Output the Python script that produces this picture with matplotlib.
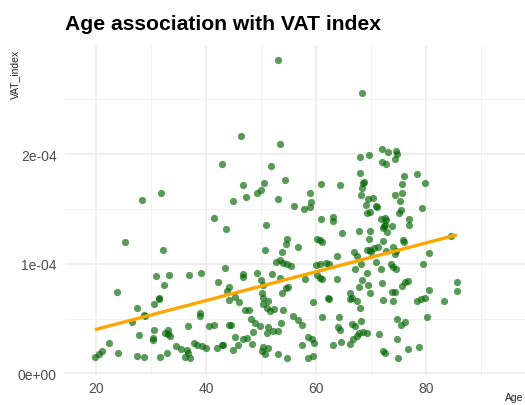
import numpy as np
import matplotlib.pyplot as plt
from matplotlib.ticker import FixedLocator, FuncFormatter

plt.rcParams['font.family'] = ['Liberation Sans', 'DejaVu Sans']

# age (years) and VAT index (in units of 1e-4)
age = [
    53.1, 68.4, 46.4, 53.5, 42.9, 51.8, 54.4, 46.7, 50.5, 50.0,
    49.3, 47.3, 44.9, 53.1, 56.0, 31.8, 28.4, 41.5, 43.6, 50.9,
    25.3, 32.2, 50.7, 54.7, 54.5, 56.7, 53.8, 60.9, 64.4, 58.9,
    59.1, 58.9, 57.8, 60.9, 63.1, 63.1, 64.7, 67.8, 60.2, 60.7,
    61.1, 72.0, 73.1, 74.5, 74.7, 74.4, 68.0, 69.6, 72.0, 72.7,
    68.0, 68.7, 68.5, 68.4, 68.2, 76.0, 78.4, 79.8, 75.6, 75.6,
    74.4, 75.3, 75.5, 75.1, 76.9, 76.9, 69.5, 70.4, 69.1, 70.9,
    71.1, 69.8, 69.3, 79.3, 71.8, 72.5, 72.7, 72.2, 72.4, 72.5,
    73.8, 72.9, 69.8, 69.6, 72.2, 75.8, 76.0, 66.9, 69.3, 69.8,
    70.5, 71.3, 70.0, 72.7, 74.0, 74.5, 74.4, 84.5, 63.8, 67.5,
    52.7, 53.5, 54.0, 54.7, 55.5, 60.0, 60.7, 61.8, 62.4,
    43.5, 46.7, 46.7, 49.3, 52.0, 39.1, 36.9, 33.3, 30.9, 32.4,
    23.8, 31.5, 31.5, 30.5, 27.5, 28.7, 28.9, 26.5, 38.9, 38.9,
    36.7, 40.5, 41.5, 30.5, 27.8, 30.4, 30.4, 32.5, 33.1, 33.1,
    33.5, 22.4, 19.8, 20.5, 21.1, 24.0, 27.5, 28.7, 31.6, 32.9,
    34.5, 35.5, 36.5, 36.7, 36.2, 37.1, 37.8, 38.4, 39.3, 40.0,
    42.0, 42.9, 42.2, 44.2, 43.8, 45.3, 44.2, 46.0, 44.2, 44.6,
    45.3, 46.7, 47.5, 48.4, 43.1, 44.9, 45.8, 47.1, 47.8, 48.2,
    48.9, 49.8, 48.5, 50.0, 50.4, 53.5, 54.9, 54.5, 50.2, 50.4,
    53.8, 50.4, 51.3, 51.1, 51.6, 52.4, 54.0, 51.3, 51.1, 52.2,
    53.6, 53.1, 50.4, 50.2, 50.7, 51.3, 53.1, 54.7, 55.8, 56.7,
    57.5, 57.5, 58.5, 59.3, 59.6, 58.5, 59.5, 59.5, 61.1, 62.2,
    60.2, 60.7, 61.1, 58.0, 63.8, 64.2, 64.0, 64.4, 64.5, 63.1,
    66.2, 66.5, 66.2, 67.5, 68.0, 66.5, 67.1, 66.2, 66.7, 67.5,
    67.1, 67.8, 68.2, 69.3, 68.4, 69.5, 69.8, 71.8, 72.0, 70.9,
    73.6, 74.0, 74.5, 73.8, 74.4, 75.6, 76.2, 76.7, 72.2, 74.0,
    79.5, 80.5, 78.4, 79.1, 79.8, 80.5, 83.3, 85.6, 85.6, 80.2,
    74.7, 76.2, 75.5, 62.4, 68.2, 67.8, 68.5, 69.3, 71.5, 74.7,
    76.7, 78.7, 72.2, 72.5, 74.9,
]
vat_index = [
    2.86, 2.56, 2.17, 2.09, 1.91, 1.89, 1.76, 1.72, 1.74, 1.67,
    1.65, 1.61, 1.57, 1.59, 1.53, 1.65, 1.58, 1.42, 1.32, 1.35,
    1.20, 1.13, 1.13, 1.23, 1.18, 1.15, 1.11, 1.73, 1.72, 1.65,
    1.56, 1.52, 1.50, 1.41, 1.43, 1.39, 1.28, 1.30, 1.23, 1.22,
    1.20, 2.05, 2.02, 2.03, 2.00, 1.96, 1.97, 1.99, 1.93, 1.91,
    1.83, 1.75, 1.74, 1.69, 1.63, 1.80, 1.82, 1.74, 1.73, 1.65,
    1.63, 1.57, 1.49, 1.46, 1.41, 1.35, 1.59, 1.60, 1.54, 1.53,
    1.52, 1.47, 1.46, 1.51, 1.41, 1.42, 1.40, 1.33, 1.34, 1.35,
    1.34, 1.29, 1.30, 1.23, 1.21, 1.22, 1.20, 1.11, 1.13, 1.13,
    1.14, 1.15, 1.11, 1.12, 1.15, 1.12, 1.09, 1.25, 1.07, 1.07,
    1.02, 1.03, 1.01, 1.00, 0.98, 0.99, 1.00, 1.01, 1.00,
    0.96, 0.91, 0.88, 0.92, 0.91, 0.92, 0.90, 0.90, 0.89, 0.81,
    0.74, 0.69, 0.68, 0.63, 0.60, 0.53, 0.52, 0.47, 0.55, 0.52,
    0.43, 0.43, 0.44, 0.40, 0.35, 0.32, 0.30, 0.37, 0.40, 0.36,
    0.34, 0.28, 0.15, 0.18, 0.20, 0.19, 0.16, 0.15, 0.15, 0.19,
    0.25, 0.22, 0.21, 0.19, 0.15, 0.14, 0.28, 0.26, 0.25, 0.23,
    0.23, 0.26, 0.83, 0.79, 0.75, 0.70, 0.67, 0.65, 0.44, 0.44,
    0.33, 0.31, 0.32, 0.27, 0.26, 0.21, 0.26, 0.58, 0.58, 0.50,
    0.46, 0.43, 0.38, 0.85, 0.81, 0.87, 0.79, 0.78, 0.73, 0.69,
    0.73, 0.63, 0.66, 0.60, 0.57, 0.59, 0.58, 0.42, 0.37, 0.39,
    0.46, 0.39, 0.24, 0.20, 0.18, 0.23, 0.18, 0.14, 0.52, 0.49,
    0.44, 0.26, 0.33, 0.31, 0.28, 0.14, 0.16, 0.65, 0.51, 0.69,
    0.90, 0.87, 0.86, 0.86, 0.86, 0.51, 0.42, 0.40, 0.29, 0.26,
    0.73, 0.69, 0.68, 0.66, 0.60, 0.45, 0.43, 0.27, 0.31, 0.34,
    0.95, 0.79, 1.00, 0.92, 0.85, 0.81, 0.73, 0.95, 0.82, 1.02,
    1.00, 0.97, 0.95, 0.74, 0.74, 0.80, 0.83, 0.84, 0.67, 0.66,
    1.00, 1.10, 0.66, 0.68, 0.69, 0.76, 0.66, 0.83, 0.75, 0.51,
    0.50, 0.47, 0.44, 0.68, 0.48, 0.37, 0.38, 0.37, 0.36, 0.31,
    0.22, 0.24, 0.20, 0.19, 0.14,
]

x_ticks = [20, 40, 60, 80]
y_ticks = [0, 1e-4, 2e-4]

x = np.array(age)
y = np.array(vat_index) * 1e-4

# linear fit, like geom_smooth(method = "lm")
slope, intercept = np.polyfit(x, y, 1)
xs = np.array([x.min(), x.max()])

fig = plt.figure(figsize=(5.25, 4.06), dpi=100)
ax = fig.add_axes([65 / 525, 30 / 406, 471 / 525, 330 / 406])

ax.scatter(x, y, s=27, color='darkgreen', alpha=0.65, linewidths=0, zorder=3)
ax.plot(xs, intercept + slope * xs, color='orange', lw=2.4, zorder=4,
        solid_capstyle='butt')

ax.set_xlim(14.36, 100)
ax.set_ylim(-0.015e-4, 2.996e-4)

ax.xaxis.set_major_locator(FixedLocator(x_ticks + [100]))
ax.xaxis.set_major_formatter(FuncFormatter(lambda v, p: f'{v:.0f}' if v in x_ticks else ''))
ax.xaxis.set_minor_locator(FixedLocator([30, 50, 70, 90]))
ax.yaxis.set_major_locator(FixedLocator(y_ticks))
ax.yaxis.set_minor_locator(FixedLocator([0.5e-4, 1.5e-4, 2.5e-4]))
ax.yaxis.set_major_formatter(FuncFormatter(lambda v, p: f'{v:.0e}'))

ax.grid(which='major', color='#EBEBEB', lw=1.2)
ax.grid(which='minor', color='#F2F2F2', lw=0.7)
ax.set_axisbelow(True)
for s in ax.spines.values():
    s.set_visible(False)
ax.tick_params(which='both', length=0, labelsize=10, labelcolor='#4D4D4D')
ax.tick_params(axis='x', pad=4)
ax.tick_params(axis='y', pad=6)

fig.text(65 / 525, 1 - 25 / 406, 'Age association with VAT index',
         fontsize=15.2, fontweight='bold', va='center', ha='left')
fig.text(15 / 525, 1 - 74 / 406, 'VAT_index', rotation=90, fontsize=7.5,
         color='#222222', va='center', ha='center')
fig.text(523 / 525, 1 - 398 / 406, 'Age', fontsize=7.5, color='#222222',
         va='center', ha='right')

fig.savefig('out.png', dpi=100)
